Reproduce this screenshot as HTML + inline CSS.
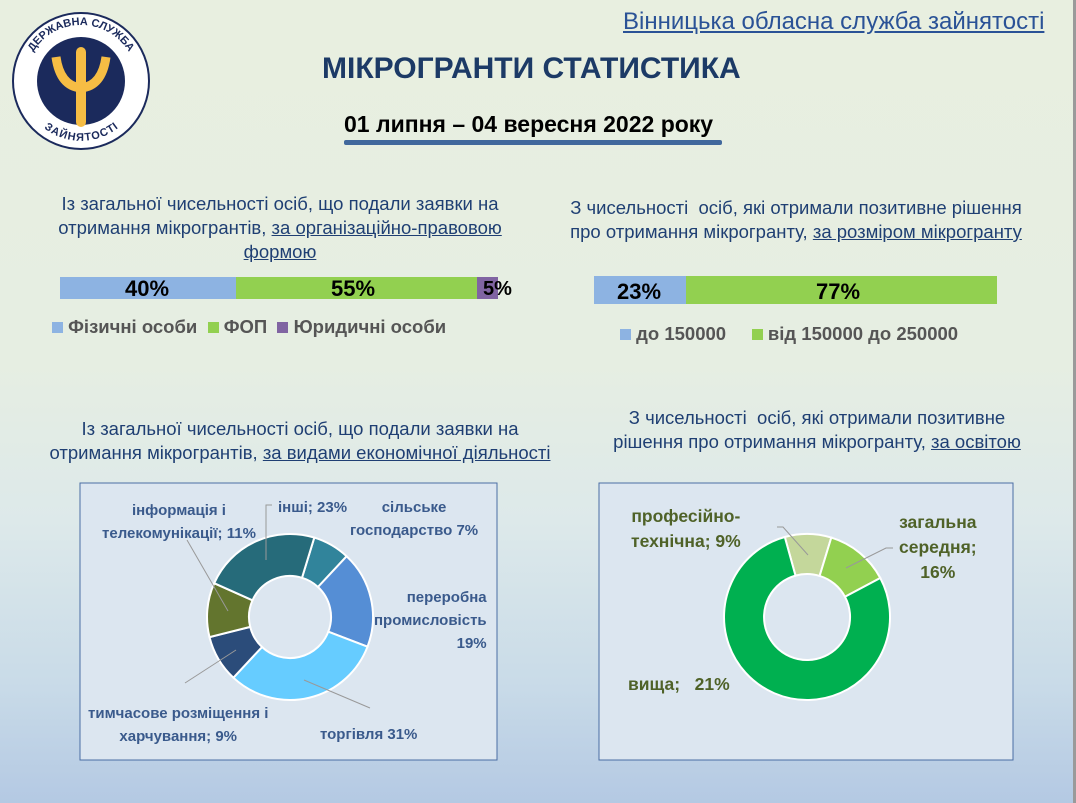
<!DOCTYPE html>
<html><head><meta charset="utf-8"><style>
body{margin:0;width:1076px;height:803px;overflow:hidden;font-family:"Liberation Sans","DejaVu Sans",sans-serif;}
#bg{position:absolute;left:0;top:0;width:1076px;height:803px;background:linear-gradient(#e8efe0 0%,#e6eee2 45%,#dde9ea 65%,#c9dbe8 85%,#b4c9e3 100%);}
.t{position:absolute;white-space:nowrap;}
.h{position:absolute;white-space:nowrap;text-align:center;font-size:18.5px;line-height:24px;color:#1f3f73;}
</style></head><body><div id="bg"></div>
<div style="position:absolute;left:1073px;top:0;width:3px;height:803px;background:#9a9a9a"></div>
<svg style="position:absolute;left:0;top:0" width="1076" height="803" id="s">
<defs><path id="arcT" d="M25 81 A56 56 0 0 1 137 81"/><path id="arcB" d="M30 95 A53 53 0 0 0 132 95"/></defs>
<circle cx="81" cy="81" r="68" fill="#fff" stroke="#1b2a5c" stroke-width="2"/>
<circle cx="81" cy="81" r="44" fill="#1b2a5c"/>
<path d="M56 57 Q60 86 81 88 Q102 86 106 57" fill="none" stroke="#f6bd44" stroke-width="9"/>
<rect x="76" y="47" width="10" height="80" rx="5" fill="#f6bd44"/>
<text font-size="11" font-weight="bold" fill="#1b2a5c"><textPath href="#arcT" startOffset="50%" text-anchor="middle">ДЕРЖАВНА СЛУЖБА</textPath></text>
<text font-size="11" font-weight="bold" fill="#1b2a5c"><textPath href="#arcB" startOffset="50%" text-anchor="middle" dominant-baseline="hanging">ЗАЙНЯТОСТІ</textPath></text>
<rect x="60" y="277" width="176" height="22" fill="#8db3e2"/>
<rect x="236" y="277" width="241" height="22" fill="#92d050"/>
<rect x="477" y="277" width="21" height="22" fill="#8064a2"/>
<rect x="594" y="276" width="92" height="28" fill="#8db3e2"/>
<rect x="686" y="276" width="311" height="28" fill="#92d050"/>
<rect x="344" y="140" width="378" height="5" rx="2" fill="#41689c"/>
<rect x="80" y="483" width="417" height="277" fill="#dce6f0" stroke="#4a6da4" stroke-width="1"/>
<rect x="599" y="483" width="414" height="277" fill="#dce6f0" stroke="#4a6da4" stroke-width="1"/>
<g id="d1"></g><g id="d2"></g>
<g stroke="#999" stroke-width="1" fill="none">
<polyline points="272,505 266,505 266,560"/>
<line x1="187" y1="540" x2="228" y2="611"/>
<line x1="185" y1="683" x2="236" y2="650"/>
<line x1="370" y1="708" x2="304" y2="680"/>
<polyline points="777,527 783,527 808,555"/>
<polyline points="893,548 886,548 846,568"/>
</g>
</svg>
<div class="t" style="left:623px;top:8px;font-size:24px;color:#2a5296;text-decoration:underline">Вінницька обласна служба зайнятості</div>
<div class="t" style="left:322px;top:52px;font-size:30px;font-weight:bold;color:#1c3a66">МІКРОГРАНТИ СТАТИСТИКА</div>
<div class="t" style="left:344px;top:111px;font-size:23px;font-weight:bold;color:#000">01 липня – 04 вересня 2022 року</div>
<div class="h" style="left:0;width:560px;top:192px">Із загальної чисельності осіб, що подали заявки на<br>отримання мікрогрантів, <u>за організаційно-правовою</u><br><u>формою</u></div>
<div class="h" style="left:546px;width:500px;top:196px">З чисельності &nbsp;осіб, які отримали позитивне рішення<br>про отримання мікрогранту, <u>за розміром мікрогранту</u></div>
<div class="t" style="left:125px;top:276px;font-size:22px;font-weight:bold">40%</div>
<div class="t" style="left:331px;top:276px;font-size:22px;font-weight:bold">55%</div>
<div class="t" style="left:483px;top:278px;font-size:20px;font-weight:bold">5%</div>
<div class="t" style="left:617px;top:279px;font-size:22px;font-weight:bold">23%</div>
<div class="t" style="left:816px;top:279px;font-size:22px;font-weight:bold">77%</div>
<div class="t" style="left:52px;top:316px;font-size:18.5px;font-weight:bold;color:#555"><span style="display:inline-block;width:11px;height:11px;background:#8db3e2"></span> Фізичні особи &nbsp;<span style="display:inline-block;width:11px;height:11px;background:#92d050"></span> ФОП &nbsp;<span style="display:inline-block;width:11px;height:11px;background:#8064a2"></span> Юридичні особи</div>
<div class="t" style="left:620px;top:323px;font-size:18.5px;font-weight:bold;color:#555"><span style="display:inline-block;width:11px;height:11px;background:#8db3e2"></span> до 150000 &nbsp;&nbsp;&nbsp;&nbsp;<span style="display:inline-block;width:11px;height:11px;background:#92d050"></span> від 150000 до 250000</div>
<div class="h" style="left:0;width:600px;top:417px">Із загальної чисельності осіб, що подали заявки на<br>отримання мікрогрантів, <u>за видами економічної діяльності</u></div>
<div class="h" style="left:567px;width:500px;top:406px">З чисельності &nbsp;осіб, які отримали позитивне<br>рішення про отримання мікрогранту, <u>за освітою</u></div>
<div style="position:absolute;font-size:15px;font-weight:bold;color:#3a5a8c;line-height:23px">
<div class="t" style="left:102px;top:499px;text-align:center">інформація і<br>телекомунікації; 11%</div>
<div class="t" style="left:278px;top:496px">інші; 23%</div>
<div class="t" style="left:350px;top:496px;text-align:center">сільське<br>господарство 7%</div>
<div class="t" style="left:374px;top:586px;text-align:right">переробна<br>промисловість<br>19%</div>
<div class="t" style="left:88px;top:702px;text-align:center">тимчасове розміщення і<br>харчування; 9%</div>
<div class="t" style="left:320px;top:723px">торгівля 31%</div>
</div>
<div style="position:absolute;font-size:17.5px;font-weight:bold;color:#4f6228;line-height:25px">
<div class="t" style="left:631px;top:504px;text-align:center">професійно-<br>технічна; 9%</div>
<div class="t" style="left:899px;top:510px;text-align:center">загальна<br>середня;<br>16%</div>
<div class="t" style="left:628px;top:672px">вища; &nbsp;&nbsp;21%</div>
</div>
<script>
function donut(g,cx,cy,R,r,segs){var el=document.getElementById(g),h='';
function p(a,rr){a=(a-90)*Math.PI/180;return (cx+rr*Math.cos(a)).toFixed(1)+' '+(cy+rr*Math.sin(a)).toFixed(1);}
for(var i=0;i<segs.length;i++){var a0=segs[i][0],a1=segs[i][1],l=(a1-a0)>180?1:0;
h+='<path d="M'+p(a0,R)+' A'+R+' '+R+' 0 '+l+' 1 '+p(a1,R)+' L'+p(a1,r)+' A'+r+' '+r+' 0 '+l+' 0 '+p(a0,r)+'Z" fill="'+segs[i][2]+'" stroke="#fff" stroke-width="2"/>';}
el.innerHTML=h;}
donut('d1',290,617,83,41,[[17,43,'#31849b'],[43,111,'#558ed5'],[111,223,'#66ccff'],[223,256,'#2b4c7a'],[256,294,'#63752e'],[294,377,'#266b7a']]);
donut('d2',807,617,83,43,[[-15.5,17,'#c4d79b'],[17,62,'#92d050'],[62,344.5,'#00b050']]);
</script>
</body></html>
